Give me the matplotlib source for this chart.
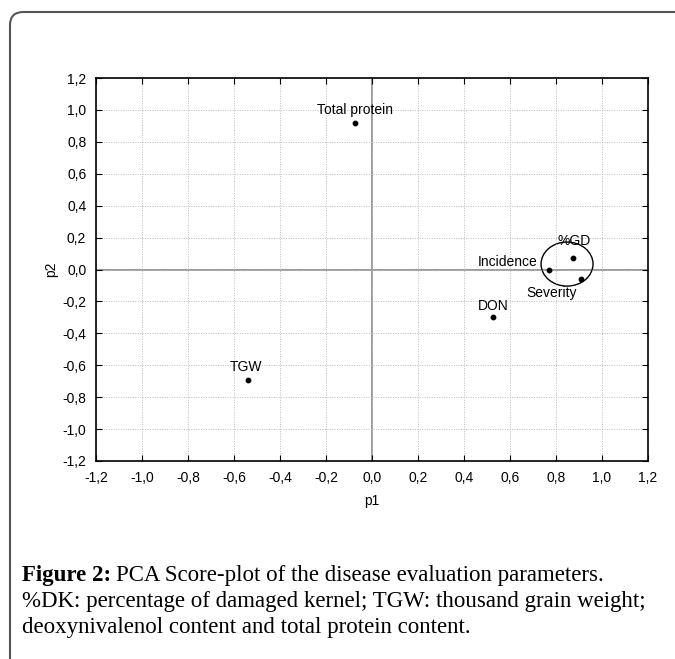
import matplotlib
matplotlib.use("Agg")
import matplotlib.pyplot as plt
from matplotlib.patches import Ellipse, FancyBboxPatch
import numpy as np

labels = ["Total protein", "TGW", "DON", "Incidence", "%GD", "Severity"]
p1 = [-0.074, -0.54, 0.526, 0.77, 0.874, 0.91]
p2 = [0.92, -0.69, -0.30, 0.00, 0.07, -0.06]
ticks = [-1.2, -1.0, -0.8, -0.6, -0.4, -0.2, 0.0, 0.2, 0.4, 0.6, 0.8, 1.0, 1.2]
tick_labels = [f"{t:.1f}".replace(".", ",") for t in ticks]

plt.rcParams['font.family'] = ['Liberation Sans', 'DejaVu Sans']
fig = plt.figure(figsize=(6.75, 6.59), dpi=100)
W, H = 675, 659
ax = fig.add_axes([96 / W, 1 - 461 / H, (648 - 96) / W, (461 - 78) / H])

# frame border
frame = FancyBboxPatch((10 / W, -0.1), 1.2, (1 - 12 / H) + 0.1,
                       boxstyle="round,pad=0,rounding_size=0.02",
                       transform=fig.transFigure, fill=False,
                       edgecolor="#555555", linewidth=1.5, clip_on=False)
fig.patches.append(frame)

ax.set_xlim(-1.2, 1.2)
ax.set_ylim(-1.2, 1.2)
ax.set_xticks(ticks)
ax.set_yticks(ticks)
ax.set_xticklabels(tick_labels, fontsize=10)
ax.set_yticklabels(tick_labels, fontsize=10)
ax.tick_params(direction="in", top=True, right=True, length=4, width=0.8)
ax.tick_params(axis="x", pad=7)
ax.tick_params(axis="y", pad=7)
ax.grid(True, linestyle=(0, (1, 1.5)), color="#bbbbbb", linewidth=0.7)
ax.axhline(0, color="#888888", linewidth=1.2, zorder=1)
ax.axvline(0, color="#888888", linewidth=1.2, zorder=1)
for s in ax.spines.values():
    s.set_linewidth(1.2)

ax.scatter(p1, p2, s=10, color="black", zorder=3)

offsets = {
    "Total protein": (0.0, 0.082, "center"),
    "TGW": (-0.01, 0.081, "center"),
    "DON": (0.0, 0.069, "center"),
    "Incidence": (-0.052, 0.044, "right"),
    "%GD": (0.004, 0.107, "center"),
    "Severity": (-0.13, -0.088, "center"),
}
for lab, x, y in zip(labels, p1, p2):
    dx, dy, ha = offsets[lab]
    ax.text(x + dx, y + dy, lab, fontsize=10, ha=ha, va="center")

ax.add_patch(Ellipse((0.848, 0.034), 0.226, 0.276, fill=False, edgecolor="black", linewidth=1.0))

ax.set_xlabel("p1", fontsize=10, labelpad=7)
ax.set_ylabel("p2", fontsize=10, labelpad=3)

serif = ["Liberation Serif", "DejaVu Serif"]
fs = 16.5
t1 = fig.text(22 / W, 1 - 575 / H, "Figure 2:", fontsize=fs, fontweight="bold",
              family=serif, va="center")
renderer = fig.canvas.get_renderer()
bb = t1.get_window_extent(renderer=renderer)
fig.text((bb.x1 + 5) / W, 1 - 575 / H, "PCA Score-plot of the disease evaluation parameters.",
         fontsize=fs, family=serif, va="center")
fig.text(22 / W, 1 - 601 / H, "%DK: percentage of damaged kernel; TGW: thousand grain weight;",
         fontsize=fs, family=serif, va="center")
fig.text(22 / W, 1 - 627 / H, "deoxynivalenol content and total protein content.",
         fontsize=fs, family=serif, va="center")

fig.savefig("out.png", dpi=100)
